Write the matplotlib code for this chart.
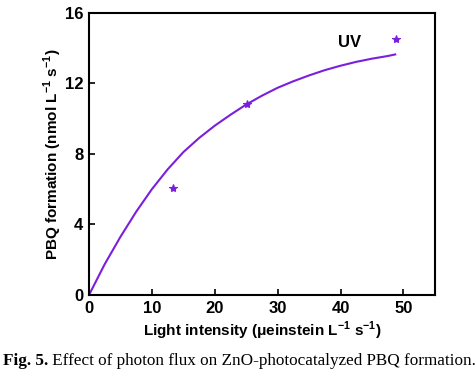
import matplotlib.pyplot as plt

plt.rcParams['font.family'] = 'Liberation Sans'
plt.rcParams['mathtext.fontset'] = 'custom'
plt.rcParams['mathtext.rm'] = 'Liberation Sans'
plt.rcParams['mathtext.bf'] = 'Liberation Sans:bold'

# Measured points (light intensity vs PBQ formation rate)
intensity = [13.4, 25.1, 48.8]
pbq_rate = [6.08, 10.83, 14.5]

# Fitted curve
fit_x = [0, 2.5, 5, 7.5, 10, 12.5, 15, 17.5, 20, 22.5, 25, 27.5,
         30, 32.5, 35, 37.5, 40, 42.5, 45, 47.5, 48.7]
fit_y = [0, 1.75, 3.3, 4.72, 6.0, 7.12, 8.1, 8.9, 9.6, 10.22, 10.8, 11.3,
         11.75, 12.12, 12.45, 12.75, 13.0, 13.22, 13.4, 13.55, 13.64]

x_ticks = [0, 10, 20, 30, 40, 50]
y_ticks = [0, 4, 8, 12, 16]

purple = '#7a1fdc'

fig = plt.figure(figsize=(4.77, 3.77), dpi=100)
ax = fig.add_axes([0.1866, 0.2175, 0.725, 0.7485])

ax.plot(fit_x, fit_y, color=purple, lw=1.5)
ax.plot(intensity, pbq_rate, ls='none', marker='*', ms=6,
        color=purple, markeredgewidth=0.8)

ax.text(41.4, 14.3, 'UV', fontsize=12, fontweight='bold',
        ha='center', va='center')

ax.set_xlim(0, 55)
ax.set_ylim(0, 16)
ax.set_xticks(x_ticks)
ax.set_yticks(y_ticks)
ax.tick_params(direction='in', length=4, width=1.2, labelsize=12, pad=4)
for lab in ax.get_xticklabels() + ax.get_yticklabels():
    lab.set_fontweight('bold')
for s in ax.spines.values():
    s.set_linewidth(1.5)

ax.set_xlabel(r'Light intensity (μeinstein L$^{\mathbf{-1}}$ s$^{\mathbf{-1}}$)',
              fontsize=11, fontweight='bold', labelpad=3)
ax.set_ylabel(r'PBQ formation (nmol L$^{\mathbf{-1}}$ s$^{\mathbf{-1}}$)',
              fontsize=11, fontweight='bold', labelpad=1)

# Caption: bold figure number followed by plain text
cap = fig.text(0.006, 0.022, 'Fig. 5.', family='Liberation Serif',
               fontsize=12.3, fontweight='bold', va='bottom')
ax.annotate(' Effect of photon flux on ZnO-photocatalyzed PBQ formation.',
            xy=(1, 0), xycoords=cap, va='bottom', ha='left',
            family='Liberation Serif', fontsize=12.3, annotation_clip=False)

fig.savefig('out.png', dpi=100)
